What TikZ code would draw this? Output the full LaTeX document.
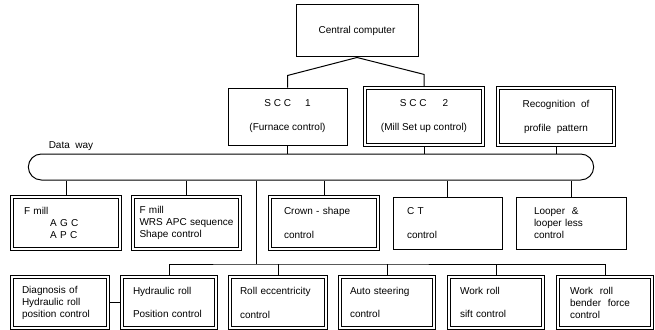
\documentclass[tikz,border=0pt]{standalone}
\usepackage{fontspec}
\setmainfont{Liberation Sans}
\usetikzlibrary{shapes.misc}

\begin{document}
\begin{tikzpicture}[x=1pt,y=-1pt,line width=1pt,
          font=\fontsize{10}{12}\selectfont,
          b/.style={draw,rectangle,inner ysep=0pt,align=center},
          lb/.style={draw,rectangle,inner ysep=0pt,align=left,minimum height=52},
          lo/.style={lb,minimum height=51},
          dbl/.style={line width=3.2pt,postaction={draw=white,line width=1.3pt}}]
  \useasboundingbox (0,0) rectangle (655,329);
  \node[b,minimum width=122,minimum height=52] (cc) at (357,31) {Central computer};
  \node[b,minimum width=119,minimum height=57] (scc1) at (287.5,116.5)
       {S C C\hspace{14pt}1\\[12pt](Furnace control)};
  \node[b,dbl,minimum width=118,minimum height=57] (scc2) at (424,116.5)
       {S C C\hspace{16pt}2\\[12pt](Mill Set up control)};
  \node[b,dbl,minimum width=116,minimum height=57] (recog) at (556,116.5)
       {Recognition\ \ of\\[12pt]profile\ \ pattern};
  \node (dway) at (71,146) {Data\ \ way};
  \node[draw,rounded rectangle,minimum width=572,minimum height=26] (bus) at (311,167) {};
  \node[lb,dbl,text width=84,inner xsep=12] (agc) at (66,223)
       {F mill\\\hspace*{26pt}A G C\\\hspace*{26pt}A P C};
  \node[lb,dbl,text width=94,inner xsep=6.5] (wrs) at (186.5,223)
       {F mill\\WRS APC sequence\\Shape control};
  \node[lb,dbl,text width=80,inner xsep=14] (crown) at (324,223)
       {Crown - shape\\[12pt]control};
  \node[lb,text width=81,inner xsep=14] (ct) at (447.5,223)
       {C T\\[12pt]control};
  \node[lb,text width=74,inner xsep=18] (looper) at (571,223)
       {Looper\ \ \&\\looper less\\control};
  \node[lo,dbl,text width=76,inner xsep=10] (diag) at (60,302.5)
       {Diagnosis of\\Hydraulic roll\\position control};
  \node[lo,dbl,text width=72,inner xsep=11] (hyd) at (169,302.5)
       {Hydraulic roll\\[11pt]Position control};
  \node[lo,dbl,text width=76,inner xsep=10] (ecc) at (278,302.5)
       {Roll eccentricity\\[12pt]control};
  \node[lo,dbl,text width=74,inner xsep=10] (auto) at (387,302.5)
       {Auto steering\\[11pt]control};
  \node[lo,dbl,text width=72,inner xsep=11] (sift) at (496,302.5)
       {Work roll\\[11pt]sift control};
  \node[lo,dbl,text width=70,inner xsep=12] (bender) at (605,302.5)
       {Work\ \ roll\\bender\ \ force\\control};
  \coordinate (hub) at (256,264);
  \draw (scc1.north) -- ([yshift=12pt]scc1.north) -- (cc.south)
        -- ([yshift=12pt]scc2.north) -- (scc2.north);
  \draw (scc1.south) -- (scc1.south |- bus.north);
  \draw (scc2.south) -- (scc2.south |- bus.north);
  \draw (recog.south) -- (recog.south |- bus.north);
  \draw (agc.north) -- (agc.north |- bus.south);
  \draw (wrs.north) -- (wrs.north |- bus.south);
  \draw (crown.north) -- (crown.north |- bus.south);
  \draw (ct.north) -- (ct.north |- bus.south);
  \draw (looper.north) -- (looper.north |- bus.south);
  \draw (hub |- bus.south) -- (hub);
  \draw (hyd.north) |- (hub) -| (bender.north);
  \draw (ecc.north) -- (ecc.north |- hub);
  \draw (auto.north) -- (auto.north |- hub);
  \draw (sift.north) -- (sift.north |- hub);
  \draw (diag) -- (hyd);
\end{tikzpicture}
\end{document}
